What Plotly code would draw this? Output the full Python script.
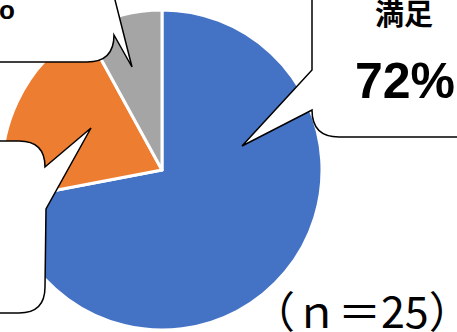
import plotly.graph_objects as go

# Survey answers (count of respondents)
labels = ["満足", "普通", "不満"]
counts = [18, 5, 2]
colors = ["#4472C4", "#ED7D31", "#A5A5A5"]
n_total = sum(counts)

W, H = 457, 332


def px(x, y):
    """Pixel position (origin top-left) -> paper coordinates."""
    return x / W, 1 - y / H


def path(points):
    """Build an SVG path in paper units from a list of drawing commands."""
    parts = []
    for cmd, *pts in points:
        coords = []
        for (x, y) in pts:
            u, v = px(x, y)
            coords.append(f"{u:.5f},{v:.5f}")
        parts.append(cmd + " ".join(coords))
    return " ".join(parts) + " Z"


fig = go.Figure(
    go.Pie(
        labels=labels,
        values=counts,
        sort=False,
        direction="clockwise",
        rotation=0,
        marker=dict(colors=colors, line=dict(color="white", width=3)),
        textinfo="none",
        hoverinfo="label+percent",
        domain=dict(x=[2 / W, 322 / W], y=[2 / H, 322 / H]),
        showlegend=False,
    )
)

# Speech-bubble callouts (rounded boxes with a wedge pointing into a slice)
callouts = [
    # 満足
    [("M", (312, -10)), ("L", (312, 70)), ("L", (242, 146)), ("L", (312, 110)),
     ("Q", (312, 137), (339, 137)), ("L", (470, 137)), ("L", (470, -10))],
    # gray slice label
    [("M", (-10, -20)), ("L", (114, -20)), ("L", (114, -4)), ("L", (132, 67)),
     ("L", (114, 35)), ("Q", (114, 62), (87, 62)), ("L", (-10, 62))],
    # orange slice label
    [("M", (-10, 141)), ("L", (19, 141)), ("Q", (45, 141), (45, 167)),
     ("L", (91, 128)), ("L", (46, 209)), ("L", (45, 287)),
     ("Q", (45, 313), (19, 313)), ("L", (-10, 313))],
]
for pts in callouts:
    fig.add_shape(
        type="path",
        path=path(pts),
        xref="paper",
        yref="paper",
        fillcolor="white",
        line=dict(color="black", width=1.5),
        layer="above",
    )

pct_main = round(100 * counts[0] / n_total)


def note(text, x, y, size, family, bold=True, xanchor="center", yanchor="middle"):
    u, v = px(x, y)
    fig.add_annotation(
        text=f"<b>{text}</b>" if bold else text,
        x=u, y=v, xref="paper", yref="paper",
        xanchor=xanchor, yanchor=yanchor,
        showarrow=False,
        font=dict(size=size, family=family, color="black"),
    )


note(labels[0], 404, 12, 29, "Noto Sans CJK JP")
note(f"{pct_main}%", 405, 81, 50, "Liberation Sans")
note("o", 7, 10, 26, "Liberation Sans")
note(f"（ｎ＝{n_total}）", 250, 309, 43, "Noto Sans CJK JP", bold=False, xanchor="left")

fig.update_layout(
    width=W,
    height=H,
    margin=dict(l=0, r=0, t=0, b=0),
    paper_bgcolor="white",
    plot_bgcolor="white",
)

fig.write_html("out.html")
